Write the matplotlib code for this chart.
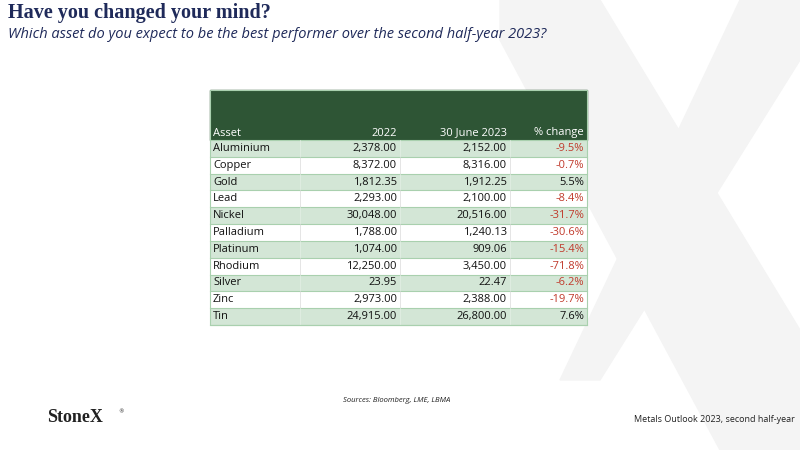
import matplotlib
matplotlib.use("Agg")
import matplotlib.pyplot as plt
from matplotlib.patches import Rectangle, Polygon

assets = ["Aluminium","Copper","Gold","Lead","Nickel","Palladium","Platinum","Rhodium","Silver","Zinc","Tin"]
v2022 = ["2,378.00","8,372.00","1,812.35","2,293.00","30,048.00","1,788.00","1,074.00","12,250.00","23.95","2,973.00","24,915.00"]
v2023 = ["2,152.00","8,316.00","1,912.25","2,100.00","20,516.00","1,240.13","909.06","3,450.00","22.47","2,388.00","26,800.00"]
pct = ["-9.5%","-0.7%","5.5%","-8.4%","-31.7%","-30.6%","-15.4%","-71.8%","-6.2%","-19.7%","7.6%"]
headers = ["Asset","2022","30 June 2023","% change"]

fig = plt.figure(figsize=(8,4.5), dpi=100)
ax = fig.add_axes([0,0,1,1])
ax.set_xlim(0,800); ax.set_ylim(450,0); ax.axis("off")

# watermark X shape
wm = "#F4F4F4"
ax.add_patch(Polygon([(500,0),(600,0),(800,330),(800,450),(720,450),(500,40)],closed=True,color=wm,zorder=0))
ax.add_patch(Polygon([(740,0),(800,0),(800,60),(600,380),(560,380)],closed=True,color=wm,zorder=0))

ax.text(8,13,"Have you changed your mind?",fontsize=14.5,family="Liberation Serif",fontweight="bold",color="#1F2A5A",va="center")
ax.text(8,35,"Which asset do you expect to be the best performer over the second half-year 2023?",fontsize=10.5,style="italic",family="Open Sans",color="#1F2A5A",va="center")

x0,x1 = 210,587
cols = [210,300,400,510,587]
hy0,hy1 = 90,140
rh = (325-140)/11
green = "#2E5535"; light = "#D3E6D6"; border="#A9D0AE"
ax.add_patch(Rectangle((x0,hy0),x1-x0,hy1-hy0,color=green,zorder=1))
fs=8
for i,h in enumerate(headers):
    if i==0:
        ax.text(cols[0]+3,hy1-7,h,color="white",fontsize=fs,family="Open Sans",va="center")
    else:
        ax.text(cols[i+1]-3,hy1-7,h,color="white",fontsize=fs,family="Open Sans",va="center",ha="right")
for r,a in enumerate(assets):
    y = hy1+r*rh
    fc = light if r%2==0 else "white"
    ax.add_patch(Rectangle((x0,y),x1-x0,rh,facecolor=fc,edgecolor="none",zorder=1))
    ax.plot([x0,x1],[y,y],color=border,lw=0.8,zorder=2)
    for cx in cols[1:4]:
        ax.plot([cx,cx],[y,y+rh],color="#E3EFE5" if r%2==0 else "#DADADA",lw=0.5,zorder=2)
    yc = y+rh/2
    ax.text(cols[0]+3,yc,a,fontsize=fs,family="Open Sans",va="center",color="#111111",zorder=3)
    ax.text(cols[2]-3,yc,v2022[r],fontsize=fs,family="Open Sans",va="center",ha="right",color="#111111",zorder=3)
    ax.text(cols[3]-3,yc,v2023[r],fontsize=fs,family="Open Sans",va="center",ha="right",color="#111111",zorder=3)
    c = "#C0392B" if pct[r].startswith("-") else "#111111"
    ax.text(cols[4]-3,yc,pct[r],fontsize=fs,family="Open Sans",va="center",ha="right",color=c,zorder=3)
ax.plot([x0,x1],[325,325],color=border,lw=0.8,zorder=2)
ax.add_patch(Rectangle((x0,hy0),x1-x0,325-hy0,fill=False,edgecolor=border,lw=0.8,zorder=2))

ax.text(397,400,"Sources: Bloomberg, LME, LBMA",fontsize=5.5,style="italic",family="Open Sans",ha="center",va="center",color="#222222")
ax.text(47,418,"StoneX",fontsize=13,family="Liberation Serif",fontweight="bold",color="#222222",va="center")
ax.text(118,412,"®",fontsize=4,color="#222222",va="center")
ax.text(795,420,"Metals Outlook 2023, second half-year",fontsize=6.5,family="Open Sans",ha="right",va="center",color="#222222")
fig.savefig("out.png",dpi=100)
